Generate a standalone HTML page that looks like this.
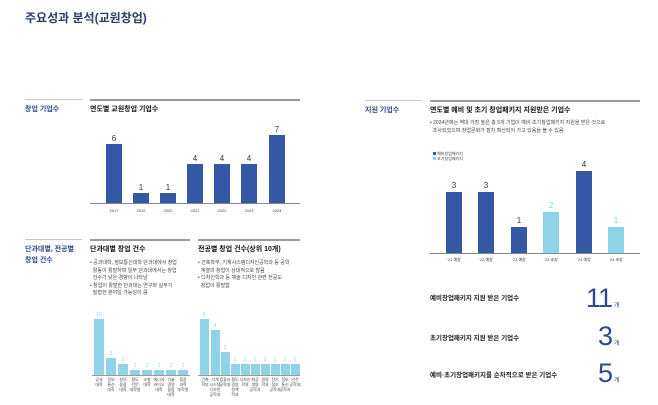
<!DOCTYPE html>
<html><head><meta charset="utf-8"><style>
*{margin:0;padding:0;box-sizing:border-box}
body{width:658px;height:405px;background:#fff;position:relative;overflow:hidden;font-family:"Liberation Sans","Noto Sans CJK KR",sans-serif;color:#222}
.a{position:absolute;white-space:nowrap}
.ln{position:absolute;height:2px;background:#9a9a9a}
.ln2{position:absolute;height:1px;background:#c8c8c8}
.sec{color:#2d4a8f;font-size:7px;font-weight:bold}
.t{font-size:7px;font-weight:bold;color:#111}
.b{font-size:5px;color:#444;line-height:7.5px}
.bar{position:absolute;background:#3457a6}
.lb{position:absolute;background:#8ed3e7}
.n{position:absolute;font-size:8px;color:#333;text-align:center;width:20px}
.nl{position:absolute;font-size:5px;color:#8ed3e7;text-align:center;width:12px}
.x{position:absolute;font-size:4px;color:#444;text-align:center;line-height:5px;white-space:nowrap}
.big{position:absolute;font-family:"Liberation Sans",sans-serif;font-weight:normal;font-size:27px;color:#2d4a8f;text-align:right;letter-spacing:-1px}
.u{position:absolute;font-size:6px;color:#2d4a8f}
.st{position:absolute;font-size:6.5px;font-weight:bold;color:#222;white-space:nowrap}
</style></head><body>
<div class="a" style="left:25px;top:9px;font-size:12px;font-weight:bold;color:#2b3f6e">주요성과 분석(교원창업)</div>

<div class="ln2" style="left:25px;top:99px;width:57px"></div>
<div class="ln" style="left:90px;top:99px;width:210px"></div>
<div class="a sec" style="left:25px;top:104px">창업 기업수</div>
<div class="a t" style="left:90px;top:104px">연도별 교원창업 기업수</div>
<div class="bar" style="left:106px;top:144px;width:16px;height:59px"></div>
<div class="bar" style="left:133px;top:193px;width:16px;height:10px"></div>
<div class="bar" style="left:160px;top:193px;width:16px;height:10px"></div>
<div class="bar" style="left:187px;top:164px;width:16px;height:39px"></div>
<div class="bar" style="left:214px;top:164px;width:16px;height:39px"></div>
<div class="bar" style="left:241px;top:164px;width:16px;height:39px"></div>
<div class="bar" style="left:269px;top:135px;width:16px;height:68px"></div>
<div class="ln2" style="left:90px;top:203px;width:210px;background:#888"></div>
<div class="n" style="left:104px;top:134px">6</div>
<div class="n" style="left:131px;top:183px">1</div>
<div class="n" style="left:158px;top:183px">1</div>
<div class="n" style="left:185px;top:154px">4</div>
<div class="n" style="left:212px;top:154px">4</div>
<div class="n" style="left:239px;top:154px">4</div>
<div class="n" style="left:267px;top:125px">7</div>
<div class="x" style="left:104px;top:208px;width:20px">2017</div>
<div class="x" style="left:131px;top:208px;width:20px">2019</div>
<div class="x" style="left:158px;top:208px;width:20px">2020</div>
<div class="x" style="left:185px;top:208px;width:20px">2021</div>
<div class="x" style="left:212px;top:208px;width:20px">2022</div>
<div class="x" style="left:239px;top:208px;width:20px">2023</div>
<div class="x" style="left:267px;top:208px;width:20px">2024</div>

<div class="ln2" style="left:25px;top:239px;width:57px"></div>
<div class="ln" style="left:90px;top:239px;width:100px"></div>
<div class="ln" style="left:198px;top:239px;width:102px"></div>
<div class="a sec" style="left:25px;top:244px;line-height:11px">단과대별, 전공별<br>창업 건수</div>
<div class="a t" style="left:90px;top:244px">단과대별 창업 건수</div>
<div class="a t" style="left:198px;top:244px">전공별 창업 건수(상위 10개)</div>
<div class="a b" style="left:90px;top:260px">• 공과대학, 정보통신대학 단과대에서 창업<br>&nbsp;&nbsp;활동이 활발하며 일부 단과대에서는 창업<br>&nbsp;&nbsp;건수가 낮은 경향이 나타남<br>• 창업이 활발한 단과대는 연구와 실무가<br>&nbsp;&nbsp;밀접한 분야일 가능성이 큼</div>
<div class="a b" style="left:198px;top:260px">• 건축학부, 기계시스템디자인공학과 등 공학<br>&nbsp;&nbsp;계열의 창업이 상대적으로 많음<br>• 디자인학과 등 예술·디자인 관련 전공도<br>&nbsp;&nbsp;창업이 활발함</div>
<div class="lb" style="left:94px;top:319px;width:10px;height:56px"></div>
<div class="lb" style="left:106px;top:358px;width:10px;height:17px"></div>
<div class="lb" style="left:118px;top:364px;width:10px;height:11px"></div>
<div class="lb" style="left:130px;top:370px;width:10px;height:5px"></div>
<div class="lb" style="left:142px;top:370px;width:10px;height:5px"></div>
<div class="lb" style="left:154px;top:370px;width:10px;height:5px"></div>
<div class="lb" style="left:166px;top:370px;width:10px;height:5px"></div>
<div class="lb" style="left:178px;top:370px;width:10px;height:5px"></div>
<div class="ln2" style="left:92px;top:375px;width:98px;background:#999"></div>
<div class="nl" style="left:93px;top:312px">10</div>
<div class="nl" style="left:105px;top:351px">3</div>
<div class="nl" style="left:117px;top:357px">2</div>
<div class="nl" style="left:129px;top:363px">1</div>
<div class="nl" style="left:141px;top:363px">1</div>
<div class="nl" style="left:153px;top:363px">1</div>
<div class="nl" style="left:165px;top:363px">1</div>
<div class="nl" style="left:177px;top:363px">1</div>
<div class="x" style="left:91px;top:377px;width:16px">공과<br>대학</div>
<div class="x" style="left:103px;top:377px;width:16px">정보<br>통신<br>대학</div>
<div class="x" style="left:115px;top:377px;width:16px">창의<br>융합<br>대학</div>
<div class="x" style="left:127px;top:377px;width:16px">철도<br>전문<br>대학원</div>
<div class="x" style="left:139px;top:377px;width:16px">조형<br>대학</div>
<div class="x" style="left:151px;top:377px;width:16px">에너지<br>바이오<br>대학</div>
<div class="x" style="left:163px;top:377px;width:16px">기술<br>경영<br>융합<br>대학</div>
<div class="x" style="left:175px;top:377px;width:16px">융합<br>과학<br>대학원</div>

<div class="lb" style="left:200px;top:319px;width:9px;height:56px"></div>
<div class="lb" style="left:211px;top:330px;width:9px;height:45px"></div>
<div class="lb" style="left:221px;top:352px;width:9px;height:23px"></div>
<div class="lb" style="left:231px;top:364px;width:9px;height:11px"></div>
<div class="lb" style="left:241px;top:364px;width:9px;height:11px"></div>
<div class="lb" style="left:251px;top:364px;width:9px;height:11px"></div>
<div class="lb" style="left:261px;top:364px;width:9px;height:11px"></div>
<div class="lb" style="left:271px;top:364px;width:9px;height:11px"></div>
<div class="lb" style="left:281px;top:364px;width:9px;height:11px"></div>
<div class="lb" style="left:291px;top:364px;width:9px;height:11px"></div>
<div class="ln2" style="left:198px;top:375px;width:102px;background:#999"></div>
<div class="nl" style="left:198px;top:312px">5</div>
<div class="nl" style="left:209px;top:323px">4</div>
<div class="nl" style="left:219px;top:345px">2</div>
<div class="nl" style="left:229px;top:357px">1</div>
<div class="nl" style="left:239px;top:357px">1</div>
<div class="nl" style="left:249px;top:357px">1</div>
<div class="nl" style="left:259px;top:357px">1</div>
<div class="nl" style="left:269px;top:357px">1</div>
<div class="nl" style="left:279px;top:357px">1</div>
<div class="nl" style="left:289px;top:357px">1</div>
<div class="x" style="left:197px;top:377px;width:16px">건축<br>학부</div>
<div class="x" style="left:207px;top:377px;width:16px">기계<br>시스템<br>디자인<br>공학과</div>
<div class="x" style="left:217px;top:377px;width:16px">컴퓨터<br>공학과</div>
<div class="x" style="left:227px;top:377px;width:16px">철도<br>경영<br>정책<br>학과</div>
<div class="x" style="left:237px;top:377px;width:16px">디자인<br>학과</div>
<div class="x" style="left:247px;top:377px;width:16px">화공<br>생명<br>공학과</div>
<div class="x" style="left:257px;top:377px;width:16px">경영<br>학과</div>
<div class="x" style="left:267px;top:377px;width:16px">전기<br>정보<br>공학과</div>
<div class="x" style="left:277px;top:377px;width:16px">정보<br>통신<br>공학과</div>
<div class="x" style="left:287px;top:377px;width:16px">안전<br>공학과</div>

<div class="ln2" style="left:365px;top:100px;width:57px"></div>
<div class="ln" style="left:430px;top:100px;width:210px"></div>
<div class="a sec" style="left:365px;top:105px">지원 기업수</div>
<div class="a t" style="left:430px;top:105px">연도별 예비 및 초기 창업패키지 지원받은 기업수</div>
<div class="a b" style="left:430px;top:120px">• 2024년에는 역대 가장 높은 총 5개 기업이 예비·초기창업패키지 지원을 받은 것으로<br>&nbsp;&nbsp;조사되었으며 창업문화가 점차 확산되어 가고 있음을 볼 수 있음</div>
<div class="a" style="left:433px;top:151px;font-size:4px;color:#444;line-height:5px"><span style="display:inline-block;width:3px;height:3px;background:#3457a6"></span> 예비창업패키지<br><span style="display:inline-block;width:3px;height:3px;background:#8ed3e7"></span> 초기창업패키지</div>
<div class="bar" style="left:446px;top:192px;width:16px;height:61px"></div>
<div class="bar" style="left:478px;top:192px;width:16px;height:61px"></div>
<div class="bar" style="left:511px;top:227px;width:16px;height:26px"></div>
<div class="lb" style="left:543px;top:212px;width:16px;height:41px"></div>
<div class="bar" style="left:576px;top:171px;width:16px;height:82px"></div>
<div class="lb" style="left:608px;top:227px;width:16px;height:26px"></div>
<div class="ln2" style="left:430px;top:253px;width:210px;background:#888"></div>
<div class="n" style="left:444px;top:181px">3</div>
<div class="n" style="left:476px;top:181px">3</div>
<div class="n" style="left:509px;top:216px">1</div>
<div class="n" style="left:541px;top:201px;color:#8ed3e7">2</div>
<div class="n" style="left:574px;top:160px">4</div>
<div class="n" style="left:606px;top:216px;color:#8ed3e7">1</div>
<div class="x" style="left:439px;top:257px;width:30px">'21 예창</div>
<div class="x" style="left:471px;top:257px;width:30px">'22 예창</div>
<div class="x" style="left:504px;top:257px;width:30px">'23 예창</div>
<div class="x" style="left:536px;top:257px;width:30px">'23 초창</div>
<div class="x" style="left:569px;top:257px;width:30px">'24 예창</div>
<div class="x" style="left:601px;top:257px;width:30px">'24 초창</div>

<div class="st" style="left:430px;top:292px">예비창업패키지 지원 받은 기업수</div>
<div class="big" style="left:560px;top:283px;width:52px">11</div>
<div class="u" style="left:614px;top:300px">개</div>
<div class="st" style="left:430px;top:332px">초기창업패키지 지원 받은 기업수</div>
<div class="big" style="left:560px;top:321px;width:52px">3</div>
<div class="u" style="left:614px;top:338px">개</div>
<div class="st" style="left:430px;top:369px">예비·초기창업패키지를 순차적으로 받은 기업수</div>
<div class="big" style="left:560px;top:358px;width:52px">5</div>
<div class="u" style="left:614px;top:375px">개</div>
</body></html>
